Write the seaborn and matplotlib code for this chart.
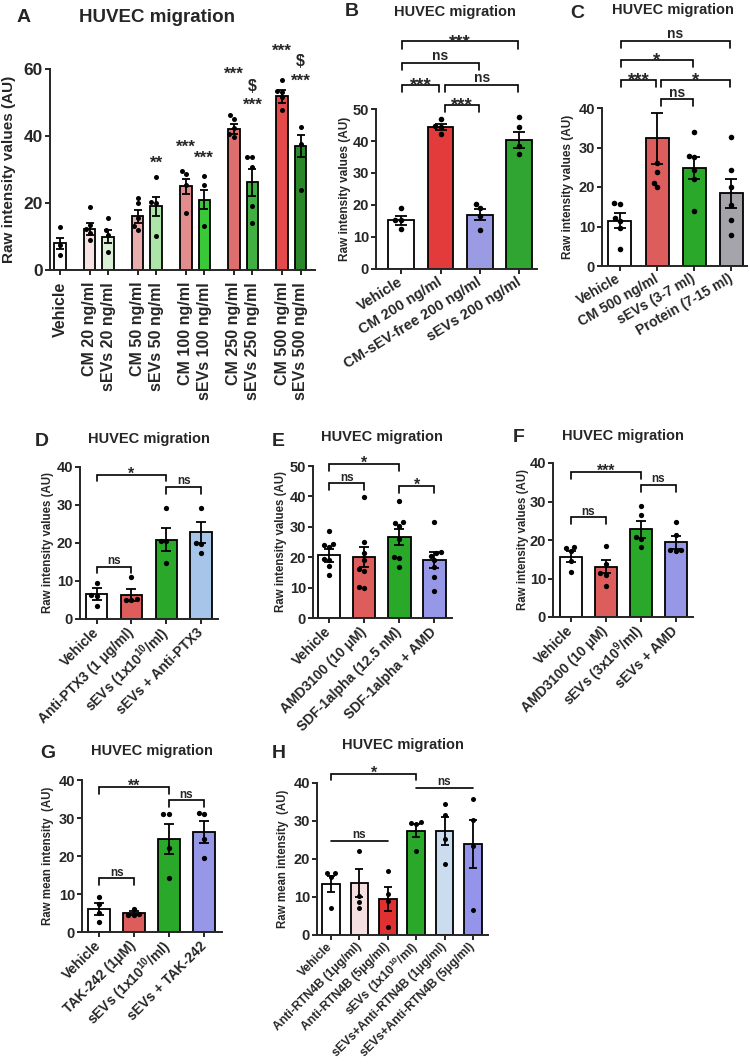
import matplotlib.pyplot as plt
import pandas as pd
import seaborn as sns

W, H = 750, 1064

# ---------------- A: dose response ----------------
a_labels = ["Vehicle", "CM 20 ng/ml", "sEVs 20 ng/ml", "CM 50 ng/ml", "sEVs 50 ng/ml",
            "CM 100 ng/ml", "sEVs 100 ng/ml", "CM 250 ng/ml", "sEVs 250 ng/ml",
            "CM 500 ng/ml", "sEVs 500 ng/ml"]
a_means = [8.0, 12.3, 10.0, 16.0, 19.0, 25.0, 21.0, 42.0, 26.2, 51.8, 37.0]
a_sems = [1.7, 1.8, 1.8, 1.9, 2.9, 2.2, 2.8, 1.5, 4.0, 1.8, 3.4]
a_points = [
    [12.9, 7.6, 4.5],
    [18.9, 13.4, 12.2, 11.0, 9.0],
    [15.4, 11.9, 10.5, 5.5],
    [21.6, 19.9, 15.5, 13.0, 12.0],
    [27.7, 20.4, 20.0, 10.1],
    [29.6, 28.7, 25.5, 17.1],
    [28.1, 25.4, 13.1],
    [46.3, 45.2, 42.5, 40.5, 39.8],
    [33.8, 33.6, 30.7, 19.1, 14.1],
    [56.7, 53.5, 53.2, 51.7, 47.8],
    [42.8, 37.5, 23.9],
]
a_stars = ["", "", "", "", "**", "***", "***", "***", "***", "***", "***"]
a_star_level = [0, 0, 0, 0, 30.4, 35.3, 31.9, 57.0, 47.7, 64.0, 54.9]
a_dollar = ["", "", "", "", "", "", "", "", "$", "", "$"]
a_dollar_level = [0, 0, 0, 0, 0, 0, 0, 0, 53.4, 0, 60.9]

# ---------------- B ----------------
b_labels = ["Vehicle", "CM 200 ng/ml", "CM-sEV-free 200 ng/ml", "sEVs 200 ng/ml"]
b_means = [15.3, 44.3, 17.0, 40.4]
b_sems = [1.4, 0.9, 1.8, 2.5]
b_points = [[19.0, 15.4, 15.2, 12.5], [46.8, 44.6, 44.4, 42.2],
            [20.4, 19.0, 16.5, 12.3], [47.6, 44.5, 38.5, 36.0]]
b_pairs = [(0, 1), (1, 3), (1, 2), (0, 2), (0, 3)]
b_sig = ["***", "ns", "***", "ns", "***"]
b_level = [57.6, 57.6, 51.3, 64.4, 71.1]

# ---------------- C ----------------
c_labels = ["Vehicle", "CM 500 ng/ml", "sEVs (3-7 ml)", "Protein (7-15 ml)"]
c_means = [11.5, 32.3, 24.8, 18.4]
c_sems = [1.8, 6.5, 2.8, 3.6]
c_points = [[15.7, 15.9, 12.2, 11.3, 9.5, 4.2], [26.2, 23.9, 21.1, 19.9],
            [33.8, 27.9, 27.6, 24.4, 22.0, 14.0], [32.6, 24.2, 20.1, 15.4, 11.6, 7.8]]
c_pairs = [(0, 1), (1, 3), (1, 2), (0, 2), (0, 3)]
c_sig = ["***", "*", "ns", "*", "ns"]
c_level = [47.2, 47.2, 42.2, 52.1, 57.0]

# ---------------- D ----------------
d_labels = ["Vehicle", "Anti-PTX3 (1 μg/ml)", "sEVs (1x10$^{10}$/ml)", "sEVs + Anti-PTX3"]
d_means = [6.6, 6.3, 20.9, 22.8]
d_sems = [1.5, 1.6, 3.1, 2.8]
d_points = [[9.4, 6.4, 6.0, 3.5], [11.0, 5.2, 5.0, 4.9],
            [29.3, 20.6, 20.4, 14.8], [29.3, 20.1, 19.8, 17.5]]
d_pairs = [(0, 2), (2, 3), (0, 1)]
d_sig = ["*", "ns", "ns"]
d_level = [38.0, 34.8, 13.8]

# ---------------- E ----------------
e_labels = ["Vehicle", "AMD3100 (10 μM)", "SDF-1alpha (12.5 nM)", "SDF-1alpha + AMD"]
e_means = [20.6, 20.2, 26.6, 19.1]
e_sems = [2.2, 3.3, 2.6, 2.5]
e_points = [[28.7, 24.4, 24.0, 23.3, 19.5, 19.2, 17.1, 14.2],
            [39.7, 25.1, 21.3, 19.1, 16.0, 15.5, 10.2, 10.0],
            [38.5, 31.6, 31.2, 30.2, 25.9, 20.1, 19.9, 16.7],
            [31.5, 21.6, 21.3, 20.5, 19.2, 16.8, 13.6, 8.8]]
e_pairs = [(0, 2), (0, 1), (2, 3)]
e_sig = ["*", "ns", "*"]
e_level = [50.6, 44.3, 43.5]

# ---------------- F ----------------
f_labels = ["Vehicle", "AMD3100 (10 μM)", "sEVs (3x10$^{9}$/ml)", "sEVs + AMD"]
f_means = [15.7, 13.1, 22.8, 19.4]
f_sems = [1.5, 1.8, 2.2, 1.7]
f_points = [[18.3, 18.0, 17.2, 14.6, 11.7], [18.5, 13.7, 11.3, 11.0, 8.1],
            [28.9, 26.4, 20.9, 20.2, 18.3], [24.8, 21.3, 17.4, 17.3, 17.2]]
f_pairs = [(0, 2), (2, 3), (0, 1)]
f_sig = ["***", "ns", "ns"]
f_level = [37.6, 34.3, 25.9]

# ---------------- G ----------------
g_labels = ["Vehicle", "TAK-242 (1μM)", "sEVs (1x10$^{10}$/ml)", "sEVs + TAK-242"]
g_means = [6.1, 5.0, 24.5, 26.4]
g_sems = [1.6, 0.4, 4.0, 2.9]
g_points = [[9.3, 7.4, 5.0, 2.6], [6.1, 4.8, 4.6, 4.5],
            [31.0, 31.0, 22.0, 14.3], [31.4, 31.0, 24.5, 19.6]]
g_pairs = [(0, 2), (2, 3), (0, 1)]
g_sig = ["**", "ns", "ns"]
g_level = [38.2, 34.7, 14.2]

# ---------------- H ----------------
h_labels = ["Vehicle", "Anti-RTN4B (1μg/ml)", "Anti-RTN4B (5μg/ml)", "sEVs (1x10$^{10}$/ml)",
            "sEVs+Anti-RTN4B (1μg/ml)", "sEVs+Anti-RTN4B (5μg/ml)"]
h_means = [13.4, 13.7, 9.5, 27.4, 27.4, 23.9]
h_sems = [2.1, 3.6, 3.2, 1.7, 3.6, 6.3]
h_points = [[16.2, 16.2, 15.3, 7.2], [22.2, 10.2, 8.7, 7.1], [16.9, 10.9, 9.0, 2.1],
            [29.8, 29.4, 29.2, 22.2], [34.5, 31.6, 25.3, 18.7], [35.8, 30.3, 23.4, 6.5]]
h_pairs = [(0, 3)]
h_sig = ["*"]
h_level = [42.5]
h_line_pairs = [(3, 5), (0, 2)]
h_line_sig = ["ns", "ns"]
h_line_level = [38.7, 24.8]

RED = "#f24848"
GREEN = "#14bd14"
PURPLE = "#8a8af5"
A_COLORS = ["#ffffff", "#fbdfe1", "#d6f4d2", "#f4a3a3", "#a3ef9d", "#f07f7f",
            "#22e01f", "#f05c5c", "#2fc12f", "#ff3030", "#1b961b"]

sns.set_style("ticks")
plt.rcParams["font.family"] = ["Liberation Sans", "DejaVu Sans"]
plt.rcParams["font.weight"] = "bold"
plt.rcParams["axes.labelweight"] = "bold"
plt.rcParams["mathtext.default"] = "regular"
plt.rcParams["axes.linewidth"] = 1.4
plt.rcParams["xtick.major.width"] = 1.4
plt.rcParams["ytick.major.width"] = 1.4
plt.rcParams["xtick.major.size"] = 3.5
plt.rcParams["ytick.major.size"] = 3.5

fig = plt.figure(figsize=(W / 100, H / 100), dpi=100)


def px_axes(left, top, right, bottom):
    return fig.add_axes([left / W, 1 - bottom / H, (right - left) / W, (bottom - top) / H])


def fig_text(x, y, s, size, ha="center"):
    fig.text(x / W, 1 - y / H, s, fontsize=size, fontweight="bold", ha=ha, va="center")


def draw_bars(ax, labels, means, sems, points, colors, pos, width, cap, dot):
    bars = pd.DataFrame({"pos": pos, "label": labels, "mean": means})
    sns.barplot(data=bars, x="pos", y="mean", hue="label", palette=dict(zip(labels, colors)),
                native_scale=True, dodge=False, width=width, edgecolor="black",
                linewidth=1.3, errorbar=None, legend=False, orient="x", ax=ax)
    ax.errorbar(pos, means, yerr=sems, fmt="none", ecolor="black", elinewidth=1.3,
                capsize=cap, capthick=1.3, zorder=3)
    pts = pd.DataFrame([(p, v) for p, vals in zip(pos, points) for v in vals],
                       columns=["pos", "value"])
    sns.swarmplot(data=pts, x="pos", y="value", native_scale=True, color="black",
                  size=dot, orient="x", ax=ax, zorder=4)


def style_axes(ax, pos, labels, xlim, top, step, tick_fs, label_fs, ylabel, label_x,
               rot, xtick_fs):
    ax.set_xlim(*xlim)
    ax.set_ylim(0, top)
    ax.set_yticks(range(0, top + 1, step))
    ax.tick_params(axis="y", labelsize=tick_fs, pad=1.5)
    ax.set_xticks(pos)
    ha = "right" if rot else "center"
    ax.set_xticklabels(labels, rotation=rot, ha=ha, va="center", rotation_mode="anchor",
                       fontsize=xtick_fs)
    ax.tick_params(axis="x", pad=5)
    ax.set_xlabel("")
    ax.set_ylabel(ylabel, fontsize=label_fs)
    pos_ax = ax.get_position()
    ax.yaxis.set_label_coords(label_x / W, pos_ax.y0 + pos_ax.height / 2,
                              transform=fig.transFigure)
    sns.despine(ax=ax)


def sig_text(ax, x, y, s, fs):
    if "*" in s:
        size = fs * 1.35
        off = 2.2 - 0.44 * size
    else:
        size = fs
        off = 1.8
    ax.annotate(s, (x, y), xytext=(0, off), textcoords="offset points", ha="center",
                va="baseline", fontsize=size, fontweight="bold", annotation_clip=False)


def brackets(ax, pairs, sigs, levels, top, fs, nudge=0.0, legs=True):
    leg = 0.045 * top
    right_ends = {j for _, j in pairs}
    for (i, j), s, y in zip(pairs, sigs, levels):
        x1 = i + (nudge * 2 if i in right_ends else nudge * 0.5)
        x2 = j - nudge * 0.5
        if legs:
            ax.plot([x1, x1, x2, x2], [y - leg, y, y, y - leg], color="black", lw=1.2,
                    clip_on=False, solid_joinstyle="miter")
        else:
            ax.plot([x1, x2], [y, y], color="black", lw=1.2, clip_on=False)
        sig_text(ax, (x1 + x2) / 2, y, s, fs)


# ---- panel A ----
ax = px_axes(50, 69, 315, 270)
a_pos = [0] + [1.6 + 2.6 * k + m for k in range(5) for m in (0, 1)]
draw_bars(ax, a_labels, a_means, a_sems, a_points, A_COLORS, a_pos, 0.62, 3.0, 3.6)
style_axes(ax, a_pos, a_labels, (-0.54, 13.78), 60, 20, 12.5, 11, "Raw intensity values (AU)",
           16, 90, 11.5)
for p, s, y in zip(a_pos, a_stars, a_star_level):
    if s:
        ax.text(p, y, s, ha="center", va="baseline", fontsize=12.3, fontweight="bold", clip_on=False)
for p, s, y in zip(a_pos, a_dollar, a_dollar_level):
    if s:
        ax.text(p, y, s, ha="center", va="baseline", fontsize=11.5, fontweight="bold", clip_on=False)
fig_text(17, 17, "A", 14, ha="left")
fig_text(157, 17, "HUVEC migration", 13.5)

# ---- panel B ----
ax = px_axes(376, 109, 537, 269)
pos4 = [0, 1, 2, 3]
draw_bars(ax, b_labels, b_means, b_sems, b_points, ["#ffffff", "#ff1f1f", "#8f8ff0", "#1eb81e"],
          pos4, 0.65, 4.3, 4.0)
style_axes(ax, pos4, b_labels, (-0.64, 3.45), 50, 10, 10.5, 8.5, "Raw intensity values (AU)",
           351, 32, 10.5)
brackets(ax, b_pairs, b_sig, b_level, 50, 10, nudge=0.06)
fig_text(345, 11, "B", 14, ha="left")
fig_text(455, 12, "HUVEC migration", 10.5)

# ---- panel C ----
ax = px_axes(602, 108, 747, 266)
draw_bars(ax, c_labels, c_means, c_sems, c_points, ["#ffffff", RED, GREEN, "#a3a3ab"],
          pos4, 0.62, 4.0, 4.0)
style_axes(ax, pos4, c_labels, (-0.48, 3.42), 40, 10, 10.5, 8.5, "Raw intensity values (AU)",
           574, 30, 10)
brackets(ax, c_pairs, c_sig, c_level, 40, 10, nudge=0.06)
fig_text(570, 14, "C", 14, ha="left")
fig_text(673, 10, "HUVEC migration", 10.5)

# ---- panel D ----
ax = px_axes(80, 467, 218, 619)
draw_bars(ax, d_labels, d_means, d_sems, d_points, ["#ffffff", RED, GREEN, "#9cc4f4"],
          pos4, 0.61, 3.8, 3.8)
style_axes(ax, pos4, d_labels, (-0.48, 3.49), 40, 10, 10.5, 8.3, "Raw intensity values (AU)",
           54, 45, 10)
brackets(ax, d_pairs, d_sig, d_level, 40, 8.5)
fig_text(35, 441, "D", 14, ha="left")
fig_text(149, 439, "HUVEC migration", 10.5)

# ---- panel E ----
ax = px_axes(313, 466, 452, 618)
draw_bars(ax, e_labels, e_means, e_sems, e_points, ["#ffffff", RED, GREEN, PURPLE],
          pos4, 0.64, 3.8, 3.8)
style_axes(ax, pos4, e_labels, (-0.46, 3.5), 50, 10, 10.5, 8.3, "Raw intensity values (AU)",
           287, 45, 10)
brackets(ax, e_pairs, e_sig, e_level, 50, 8.5)
fig_text(272, 441, "E", 14, ha="left")
fig_text(382, 437, "HUVEC migration", 10.5)

# ---- panel F ----
ax = px_axes(553, 463, 693, 617)
draw_bars(ax, f_labels, f_means, f_sems, f_points, ["#ffffff", RED, GREEN, PURPLE],
          pos4, 0.63, 3.8, 3.8)
style_axes(ax, pos4, f_labels, (-0.51, 3.5), 40, 10, 10.5, 8.3, "Raw intensity values (AU)",
           529, 45, 10)
brackets(ax, f_pairs, f_sig, f_level, 40, 8.5)
fig_text(513, 437, "F", 14, ha="left")
fig_text(623, 436, "HUVEC migration", 10.5)

# ---- panel G ----
ax = px_axes(82, 780, 222, 932)
draw_bars(ax, g_labels, g_means, g_sems, g_points, ["#ffffff", RED, GREEN, PURPLE],
          pos4, 0.62, 3.8, 3.8)
style_axes(ax, pos4, g_labels, (-0.49, 3.52), 40, 10, 10.5, 8.3, "Raw mean intensity  (AU)",
           54, 45, 10)
brackets(ax, g_pairs, g_sig, g_level, 40, 8.5)
fig_text(40, 753, "G", 14, ha="left")
fig_text(152, 751, "HUVEC migration", 10.5)

# ---- panel H ----
ax = px_axes(317, 783, 488, 935)
pos6 = [0, 1, 2, 3, 4, 5]
draw_bars(ax, h_labels, h_means, h_sems, h_points,
          ["#ffffff", "#fadbdd", "#ff1212", GREEN, "#c5dbf5", "#8585fa"],
          pos6, 0.62, 3.2, 3.6)
style_axes(ax, pos6, h_labels, (-0.49, 5.53), 40, 10, 10.5, 8.3, "Raw mean intensity  (AU)",
           289, 45, 8.7)
ax.tick_params(axis="x", pad=3.5)
brackets(ax, h_pairs, h_sig, h_level, 40, 8.5)
brackets(ax, h_line_pairs, h_line_sig, h_line_level, 40, 8.5, legs=False)
fig_text(272, 753, "H", 14, ha="left")
fig_text(403, 745, "HUVEC migration", 10.5)

fig.savefig("out.png", dpi=100)
